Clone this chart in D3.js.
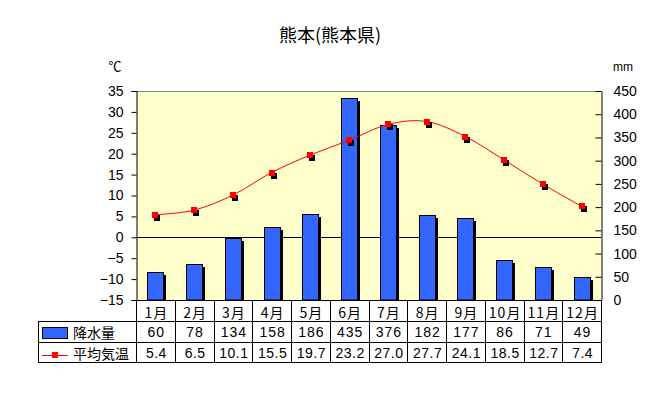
<!DOCTYPE html>
<html><head><meta charset="utf-8">
<script src="https://cdn.jsdelivr.net/npm/d3@7"></script>
<style>
html,body{margin:0;padding:0;background:#fff;}
svg text{font-family:"Liberation Sans","Noto Sans CJK JP",sans-serif;}
</style></head>
<body>
<svg id="chart" width="653" height="399"></svg>
<script>
const title = "熊本(熊本県)";
const months = ["1月","2月","3月","4月","5月","6月","7月","8月","9月","10月","11月","12月"];
const precip = [60,78,134,158,186,435,376,182,177,86,71,49];
const temp = [5.4,6.5,10.1,15.5,19.7,23.2,27.0,27.7,24.1,18.5,12.7,7.4];
const tempTicks = [-15,-10,-5,0,5,10,15,20,25,30,35];
const precipTicks = [0,50,100,150,200,250,300,350,400,450];
const precipLabel = "降水量";
const tempLabel = "平均気温";

const svg = d3.select("#chart");
const L = 136, R = 601, T = 91, B = 300;
const tableLeft = 38, row1 = 321, row2 = 341.5, row3 = 362;

const x = d3.scaleBand().domain(months).range([L, R]).padding(0);
const yT = d3.scaleLinear().domain([-15, 35]).range([B, T]);
const yP = d3.scaleLinear().domain([0, 450]).range([B, T]);

// title
svg.append("text").attr("x", 330).attr("y", 42).attr("text-anchor", "middle")
  .style("font-family", "'Noto Sans CJK JP'").style("font-size", "18px").text(title);

// plot bg
svg.append("rect").attr("x", L).attr("y", T).attr("width", R - L).attr("height", B - T).attr("fill", "#FFFFCC");
svg.append("line").attr("x1", L).attr("x2", R).attr("y1", T + 0.5).attr("y2", T + 0.5).attr("stroke", "#808080");

// zero line
svg.append("line").attr("x1", L).attr("x2", R).attr("y1", Math.round(yT(0)) + 0.5).attr("y2", Math.round(yT(0)) + 0.5).attr("stroke", "#000");

// bars
const bw = 16;
const bars = svg.append("g");
months.forEach((m, i) => {
  const cx = x(m) + x.bandwidth() / 2;
  const x0 = Math.round(cx - bw / 2);
  const yt = Math.round(yP(precip[i]));
  bars.append("rect").attr("x", x0 + 3).attr("y", yt + 3).attr("width", bw).attr("height", B - yt - 3).attr("fill", "#000");
  bars.append("rect").attr("x", x0 + 0.5).attr("y", yt + 0.5).attr("width", bw).attr("height", B - yt - 0.5)
    .attr("fill", "#3366FF").attr("stroke", "#000").attr("stroke-width", 1);
});

// temp line
const pts = months.map((m, i) => [x(m) + x.bandwidth() / 2, yT(temp[i])]);
svg.append("path").attr("d", d3.line().curve(d3.curveCatmullRom.alpha(0))(pts))
  .attr("fill", "none").attr("stroke", "#FF0000").attr("stroke-width", 1);
pts.forEach(p => {
  svg.append("rect").attr("x", Math.round(p[0] - 3) + 2).attr("y", Math.round(p[1] - 3) + 3).attr("width", 6).attr("height", 6).attr("fill", "#000");
});
pts.forEach(p => {
  svg.append("rect").attr("x", Math.round(p[0] - 3)).attr("y", Math.round(p[1] - 3)).attr("width", 6).attr("height", 6).attr("fill", "#FF0000");
});

// left axis
const axL = svg.append("g").attr("transform", `translate(${L + 0.5},0)`)
  .call(d3.axisLeft(yT).tickValues(tempTicks).tickSize(5).tickPadding(8).tickFormat(d => d < 0 ? "−" + Math.abs(d) : d));
axL.select(".domain").attr("stroke", "#000");
axL.selectAll("text").style("font-size", "14px").attr("fill", "#000");

// right axis
const axR = svg.append("g").attr("transform", `translate(${R + 0.5},0)`)
  .call(d3.axisRight(yP).tickValues(precipTicks).tickSize(0).tickPadding(12));
axR.select(".domain").attr("stroke", "#000");
axR.selectAll(".tick line").attr("x1", -6).attr("x2", 0).attr("stroke", "#000");
axR.selectAll("text").style("font-size", "14px").attr("fill", "#000");

// units
svg.append("text").attr("x", 115).attr("y", 71).attr("text-anchor", "middle").style("font-size", "13px").text("℃");
svg.append("text").attr("x", 623).attr("y", 71).attr("text-anchor", "middle").style("font-size", "12px").text("mm");

// table
const g = svg.append("g").attr("stroke", "#000").attr("stroke-width", 1);
g.append("line").attr("x1", L).attr("x2", R + 1).attr("y1", B + 0.5).attr("y2", B + 0.5);
[row1, row2, row3].forEach(yy => {
  g.append("line").attr("x1", tableLeft).attr("x2", R + 1).attr("y1", Math.round(yy) + 0.5).attr("y2", Math.round(yy) + 0.5);
});
g.append("line").attr("x1", tableLeft + 0.5).attr("x2", tableLeft + 0.5).attr("y1", row1).attr("y2", row3 + 1);
months.forEach(m => {
  g.append("line").attr("x1", Math.round(x(m)) + 0.5).attr("x2", Math.round(x(m)) + 0.5).attr("y1", B).attr("y2", row3 + 1);
});
g.append("line").attr("x1", R + 0.5).attr("x2", R + 0.5).attr("y1", B).attr("y2", row3 + 1);

const cellText = (cx, cy, t) => svg.append("text").attr("x", cx).attr("y", cy).attr("text-anchor", "middle")
  .attr("dominant-baseline", "central").style("font-size", "14px").text(t);
months.forEach((m, i) => {
  const cx = x(m) + x.bandwidth() / 2 + 1;
  cellText(cx, (B + row1) / 2 + 1, m).style("font-family", "'Noto Sans CJK JP'").style("letter-spacing", "1px");
  cellText(cx, (row1 + row2) / 2 + 1, precip[i]).style("letter-spacing", "1px");
  cellText(cx, (row2 + row3) / 2 + 1, temp[i].toFixed(1)).style("letter-spacing", "0.5px");
});

// legend
svg.append("rect").attr("x", 42.5).attr("y", 327.5).attr("width", 25).attr("height", 11).attr("fill", "#3366FF").attr("stroke", "#000");
svg.append("text").attr("x", 73).attr("y", (row1 + row2) / 2 + 1).attr("dominant-baseline", "central")
  .style("font-family", "'Noto Sans CJK JP'").style("font-size", "14px").text(precipLabel);
svg.append("line").attr("x1", 42).attr("x2", 68).attr("y1", 355.5).attr("y2", 355.5).attr("stroke", "#FF0000");
svg.append("rect").attr("x", 52).attr("y", 352).attr("width", 6).attr("height", 6).attr("fill", "#FF0000");
svg.append("text").attr("x", 73).attr("y", (row2 + row3) / 2 + 1).attr("dominant-baseline", "central")
  .style("font-family", "'Noto Sans CJK JP'").style("font-size", "14px").text(tempLabel);
</script>
</body></html>
